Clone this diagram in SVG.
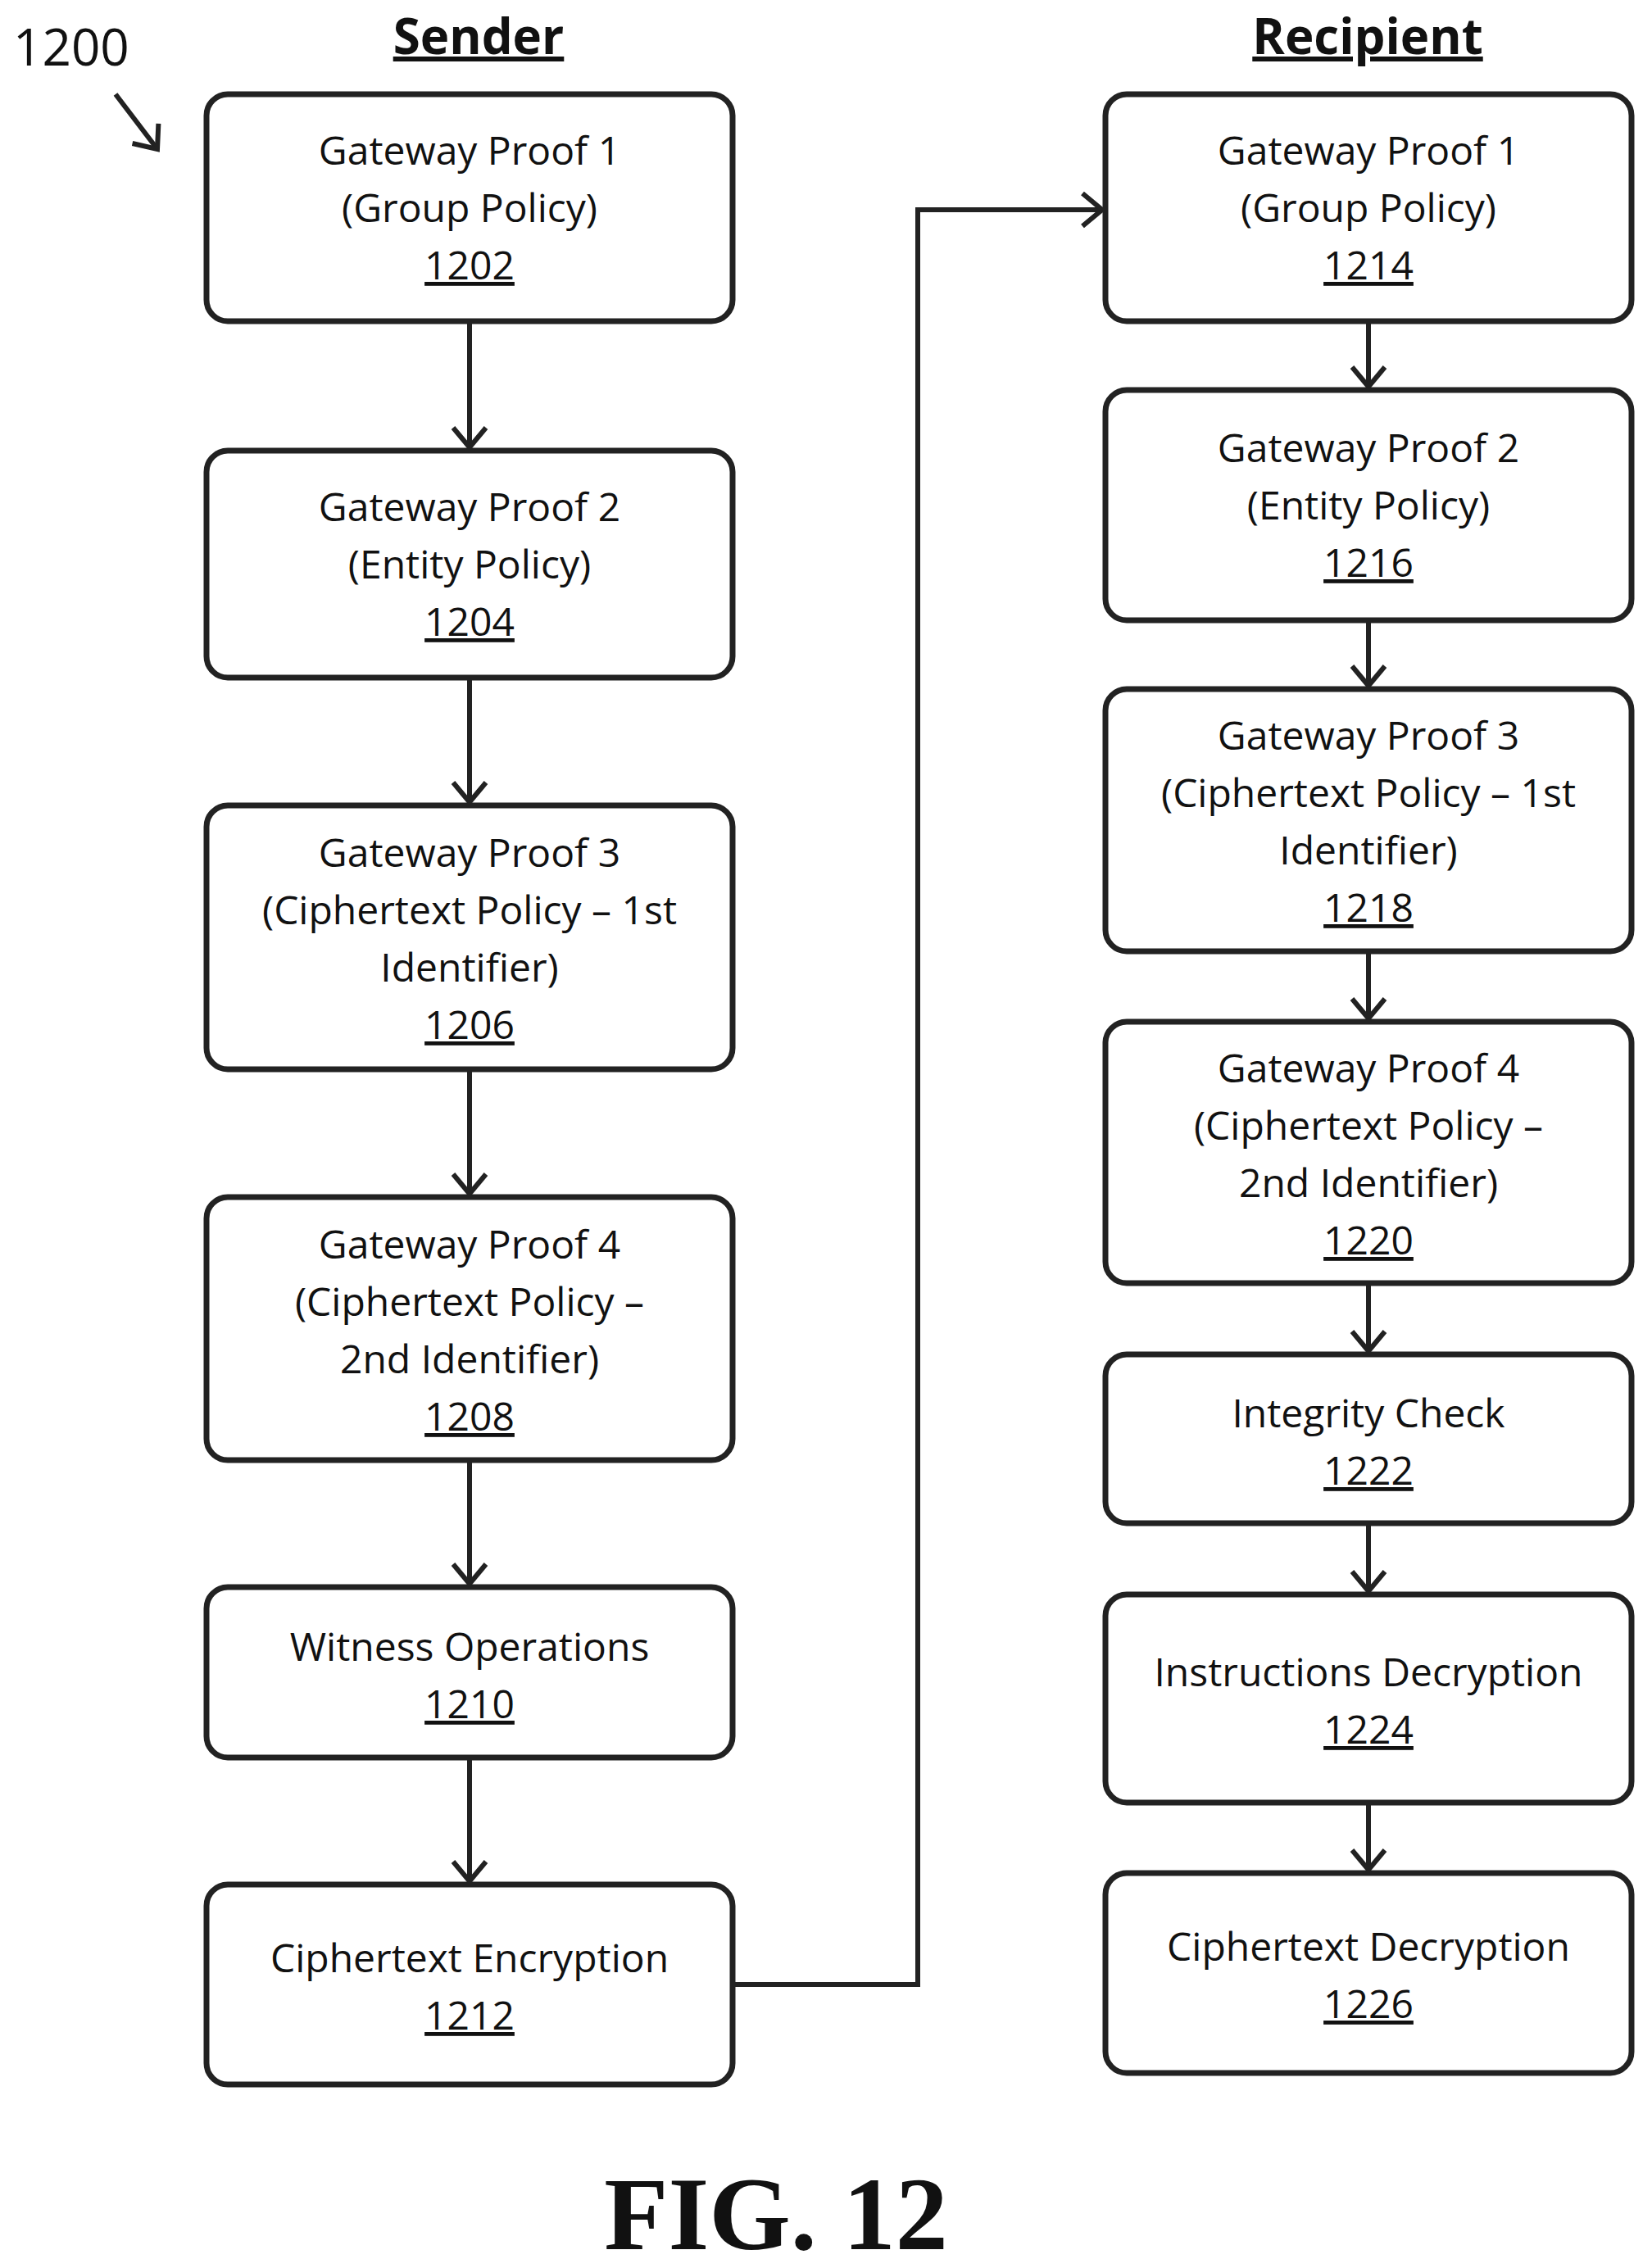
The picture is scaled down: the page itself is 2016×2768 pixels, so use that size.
<svg xmlns="http://www.w3.org/2000/svg" width="2016" height="2768" viewBox="0 0 2016 2768">
<defs>
<marker id="ah" markerWidth="12" markerHeight="12" refX="10" refY="6" orient="auto" markerUnits="userSpaceOnUse" viewBox="0 0 12 12" overflow="visible">
<path d="M-14,-14 L10,6 L-14,26" fill="none" stroke="#222" stroke-width="6"/>
</marker>
<style>
.b{fill:#fff;stroke:#222;stroke-width:7}
.t{font-family:"Open Sans","Noto Sans",sans-serif;font-size:48px;fill:#111;text-anchor:middle}
.u{text-decoration:underline}
.h{font-family:"Open Sans","Noto Sans",sans-serif;font-size:60px;font-weight:bold;fill:#111;text-anchor:middle;text-decoration:underline}
.c{fill:none;stroke:#222;stroke-width:6}
</style>
</defs>
<rect width="2016" height="2768" fill="#fff"/>
<text x="16" y="80" font-family="Open Sans, sans-serif" font-size="62" fill="#111">1200</text>
<text class="h" x="584" y="66">Sender</text>
<text class="h" x="1669" y="66">Recipient</text>
<text x="947" y="2745" font-family="Liberation Serif, serif" font-size="128" font-weight="bold" text-anchor="middle" fill="#111">FIG. 12</text>
<g id="connectors">
<line class="c" x1="141" y1="115" x2="192" y2="182" marker-end="url(#ah)"/>
<line class="c" x1="573" y1="392" x2="573" y2="546" marker-end="url(#ah)"/>
<line class="c" x1="573" y1="827" x2="573" y2="979" marker-end="url(#ah)"/>
<line class="c" x1="573" y1="1305" x2="573" y2="1457" marker-end="url(#ah)"/>
<line class="c" x1="573" y1="1782" x2="573" y2="1933" marker-end="url(#ah)"/>
<line class="c" x1="573" y1="2145" x2="573" y2="2296" marker-end="url(#ah)"/>
<polyline class="c" points="894,2422 1120,2422 1120,256 1345,256" marker-end="url(#ah)"/>
<line class="c" x1="1670" y1="392" x2="1670" y2="472" marker-end="url(#ah)"/>
<line class="c" x1="1670" y1="757" x2="1670" y2="837" marker-end="url(#ah)"/>
<line class="c" x1="1670" y1="1161" x2="1670" y2="1243" marker-end="url(#ah)"/>
<line class="c" x1="1670" y1="1566" x2="1670" y2="1649" marker-end="url(#ah)"/>
<line class="c" x1="1670" y1="1859" x2="1670" y2="1942" marker-end="url(#ah)"/>
<line class="c" x1="1670" y1="2200" x2="1670" y2="2282" marker-end="url(#ah)"/>
</g>
<g id="n1202"><rect class="b" x="252" y="115" width="642" height="277" rx="26"/>
<text class="t" x="573" y="201">Gateway Proof 1</text><text class="t" x="573" y="271">(Group Policy)</text><text class="t u" x="573" y="341">1202</text></g>
<g id="n1204"><rect class="b" x="252" y="550" width="642" height="277" rx="26"/>
<text class="t" x="573" y="636">Gateway Proof 2</text><text class="t" x="573" y="706">(Entity Policy)</text><text class="t u" x="573" y="776">1204</text></g>
<g id="n1206"><rect class="b" x="252" y="983" width="642" height="322" rx="26"/>
<text class="t" x="573" y="1058">Gateway Proof 3</text><text class="t" x="573" y="1128">(Ciphertext Policy – 1st</text><text class="t" x="573" y="1198">Identifier)</text><text class="t u" x="573" y="1268">1206</text></g>
<g id="n1208"><rect class="b" x="252" y="1461" width="642" height="321" rx="26"/>
<text class="t" x="573" y="1536">Gateway Proof 4</text><text class="t" x="573" y="1606">(Ciphertext Policy –</text><text class="t" x="573" y="1676">2nd Identifier)</text><text class="t u" x="573" y="1746">1208</text></g>
<g id="n1210"><rect class="b" x="252" y="1937" width="642" height="208" rx="26"/>
<text class="t" x="573" y="2027">Witness Operations</text><text class="t u" x="573" y="2097">1210</text></g>
<g id="n1212"><rect class="b" x="252" y="2300" width="642" height="244" rx="26"/>
<text class="t" x="573" y="2407">Ciphertext Encryption</text><text class="t u" x="573" y="2477">1212</text></g>
<g id="n1214"><rect class="b" x="1349" y="115" width="642" height="277" rx="26"/>
<text class="t" x="1670" y="201">Gateway Proof 1</text><text class="t" x="1670" y="271">(Group Policy)</text><text class="t u" x="1670" y="341">1214</text></g>
<g id="n1216"><rect class="b" x="1349" y="476" width="642" height="281" rx="26"/>
<text class="t" x="1670" y="564">Gateway Proof 2</text><text class="t" x="1670" y="634">(Entity Policy)</text><text class="t u" x="1670" y="704">1216</text></g>
<g id="n1218"><rect class="b" x="1349" y="841" width="642" height="320" rx="26"/>
<text class="t" x="1670" y="915">Gateway Proof 3</text><text class="t" x="1670" y="985">(Ciphertext Policy – 1st</text><text class="t" x="1670" y="1055">Identifier)</text><text class="t u" x="1670" y="1125">1218</text></g>
<g id="n1220"><rect class="b" x="1349" y="1247" width="642" height="319" rx="26"/>
<text class="t" x="1670" y="1321">Gateway Proof 4</text><text class="t" x="1670" y="1391">(Ciphertext Policy –</text><text class="t" x="1670" y="1461">2nd Identifier)</text><text class="t u" x="1670" y="1531">1220</text></g>
<g id="n1222"><rect class="b" x="1349" y="1653" width="642" height="206" rx="26"/>
<text class="t" x="1670" y="1742">Integrity Check</text><text class="t u" x="1670" y="1812">1222</text></g>
<g id="n1224"><rect class="b" x="1349" y="1946" width="642" height="254" rx="26"/>
<text class="t" x="1670" y="2058">Instructions Decryption</text><text class="t u" x="1670" y="2128">1224</text></g>
<g id="n1226"><rect class="b" x="1349" y="2286" width="642" height="244" rx="26"/>
<text class="t" x="1670" y="2393">Ciphertext Decryption</text><text class="t u" x="1670" y="2463">1226</text></g>
</svg>
